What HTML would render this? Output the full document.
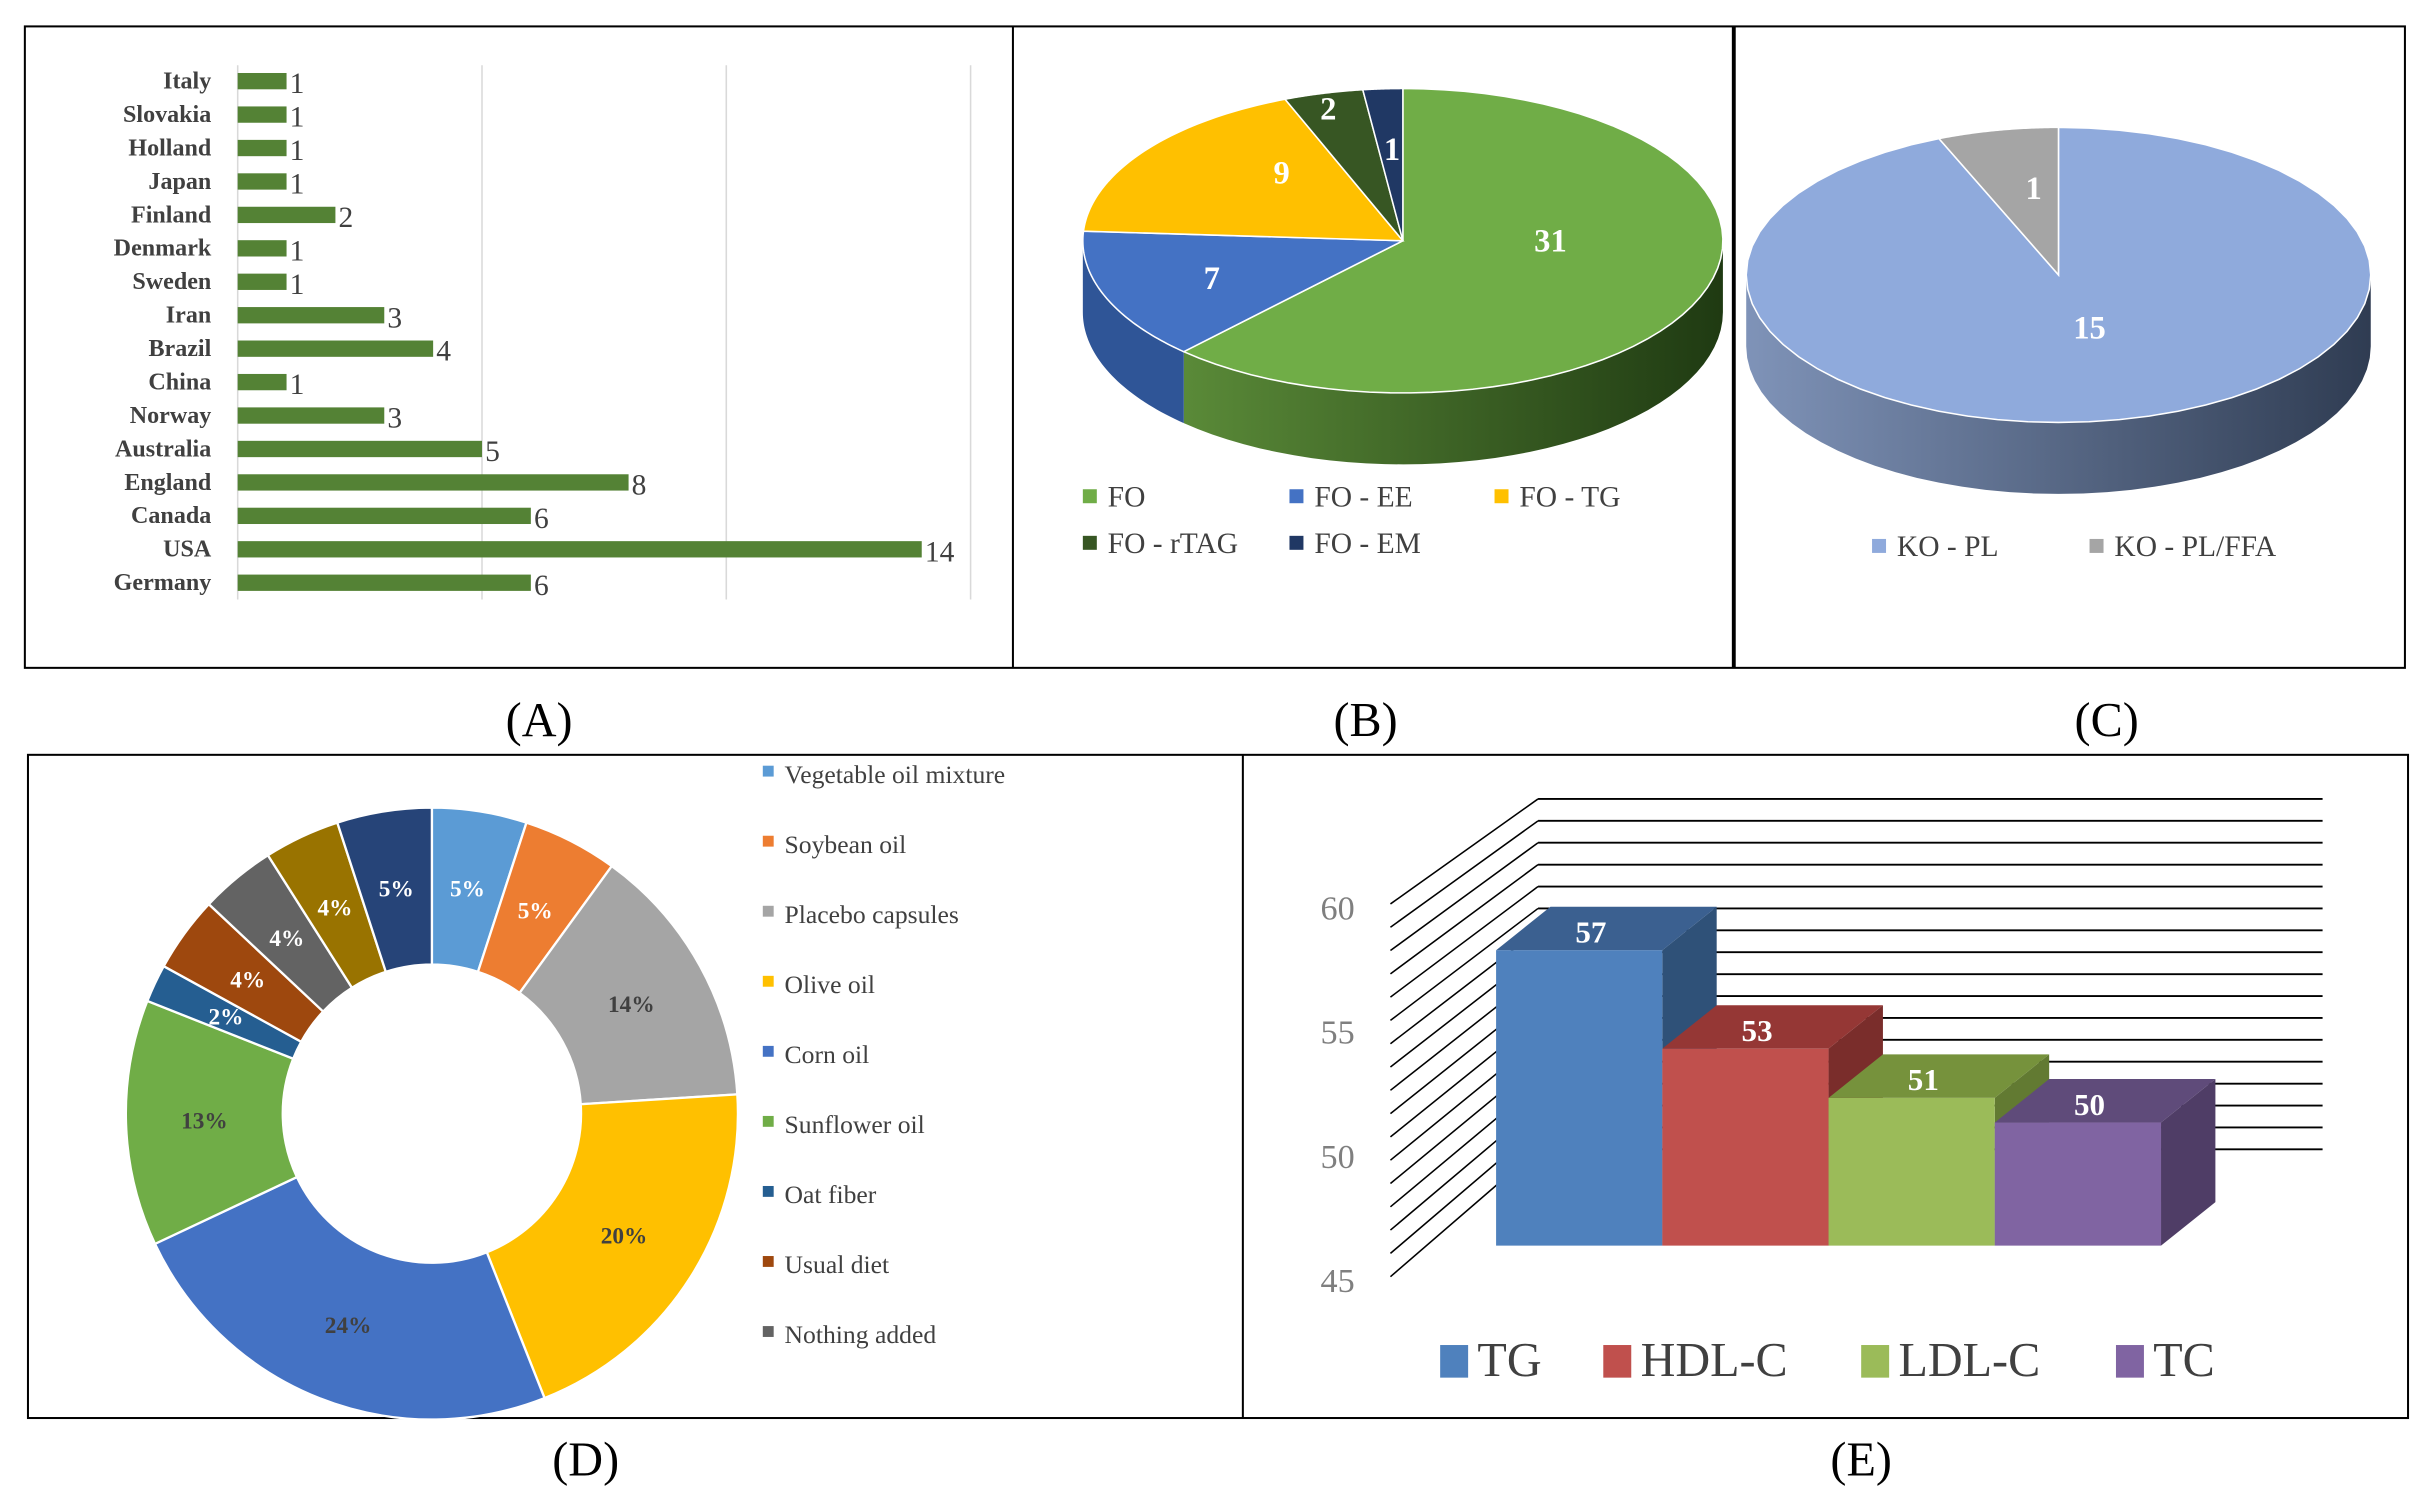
<!DOCTYPE html>
<html><head><meta charset="utf-8"><style>
html,body{margin:0;padding:0;background:#fff;}
svg{display:block;}
text{font-family:"Liberation Serif",serif;}
</style></head><body>
<svg id="fig" width="2436" height="1505" viewBox="0 0 1568 969" preserveAspectRatio="none" xmlns="http://www.w3.org/2000/svg">
<defs>
<linearGradient id="gB" x1="0" x2="1" y1="0" y2="0"><stop offset="0" stop-color="#5a8a38"/><stop offset="1" stop-color="#1f3a12"/></linearGradient>
<linearGradient id="gC" x1="0" x2="1" y1="0" y2="0"><stop offset="0" stop-color="#7f93b8"/><stop offset="1" stop-color="#2f3c52"/></linearGradient>
</defs>
<g fill="none" stroke="#000">
<rect x="16" y="17" width="1532" height="413" stroke-width="1.3"/>
<line x1="652" y1="17" x2="652" y2="430" stroke-width="1.3"/>
<line x1="1116" y1="17" x2="1116" y2="430" stroke-width="2.5"/>
<rect x="18" y="486" width="1532" height="427" stroke-width="1.3"/>
<line x1="800" y1="486" x2="800" y2="913" stroke-width="1.3"/>
</g>
<g font-size="31" fill="#000" text-anchor="middle">
<text x="347" y="474">(A)</text><text x="879" y="474">(B)</text><text x="1356" y="474">(C)</text>
<text x="377" y="950">(D)</text><text x="1198" y="950">(E)</text>
</g>
<g id="A"></g>
<g id="B"></g>
<g id="C"></g>
<g id="D"></g>
<g id="E"></g>
</svg>
<script>
const countries=["Italy","Slovakia","Holland","Japan","Finland","Denmark","Sweden","Iran","Brazil","China","Norway","Australia","England","Canada","USA","Germany"];
const countryCounts=[1,1,1,1,2,1,1,3,4,1,3,5,8,6,14,6];
const countryTicks=[0,5,10,15];
const foLabels=["FO","FO - EE","FO - TG","FO - rTAG","FO - EM"];
const foValues=[31,7,9,2,1];
const koLabels=["KO - PL","KO - PL/FFA"];
const koValues=[15,1];
const ctrlLabels=["Vegetable oil mixture","Soybean oil","Placebo capsules","Olive oil","Corn oil","Sunflower oil","Oat fiber","Usual diet","Nothing added","",""];
const ctrlValues=[5,5,14,20,24,13,2,4,4,4,5];
const lipidLabels=["TG","HDL-C","LDL-C","TC"];
const lipidValues=[57,53,51,50];
const lipidTicks=[45,50,55,60];

const NS="http://www.w3.org/2000/svg";
function mk(tag,attrs,parent,txt){const e=document.createElementNS(NS,tag);for(const k in attrs)e.setAttribute(k,attrs[k]);if(txt!==undefined)e.textContent=txt;parent.appendChild(e);return e;}

// ---- A ----
const A=document.getElementById('A');
const ax=v=>153+v*31.45;
const ay=i=>52+i*21.53;
countryTicks.forEach(t=>{const l=mk('line',{x1:ax(t),x2:ax(t),y1:42,y2:386,stroke:'#d9d9d9','stroke-width':1},A);

});
countries.forEach((c,i)=>{
const t=mk('text',{x:136,y:ay(i)+5,'text-anchor':'end','font-size':15.5,'font-weight':'bold',fill:'#404040'},A,c);


const r=mk('rect',{x:ax(0),y:ay(i)-5,width:ax(countryCounts[i])-ax(0),height:10.5,fill:'#548235'},A);


const v=mk('text',{x:ax(countryCounts[i])+2,y:ay(i)+8,'font-size':19,fill:'#404040'},A,countryCounts[i]);

});

// ---- 3D pie helper ----
function pie3d(g,vals,cols,sides,cx,cy,rx,ry,depth,labels,labelPos){
const tot=vals.reduce((a,b)=>a+b,0);
const P=(a,dy)=>[cx+rx*Math.sin(a),cy-ry*Math.cos(a)+dy];
let acc=0;const arcs=vals.map(v=>{const a0=acc/tot*2*Math.PI;acc+=v;const a1=acc/tot*2*Math.PI;return [a0,a1];});
arcs.forEach((ar,i)=>{
const lo=Math.PI/2,hi=3*Math.PI/2;
const s2=Math.max(ar[0],lo),e2=Math.min(ar[1],hi);
if(e2>s2){let d='';const n=40;
for(let k=0;k<=n;k++){const p=P(s2+(e2-s2)*k/n,0);d+=(k?'L':'M')+p[0]+' '+p[1];}
for(let k=n;k>=0;k--){const p=P(s2+(e2-s2)*k/n,depth);d+='L'+p[0]+' '+p[1];}
const sp=mk('path',{d:d+'Z',fill:sides[i]},g);

}});
arcs.forEach((ar,i)=>{let d='M'+cx+' '+cy;const n=60;
for(let k=0;k<=n;k++){const p=P(ar[0]+(ar[1]-ar[0])*k/n,0);d+='L'+p[0]+' '+p[1];}
const sl=mk('path',{d:d+'Z',fill:cols[i],stroke:'#fff','stroke-width':1},g);

});
arcs.forEach((ar,i)=>{
const lt=mk('text',{x:labelPos[i][0],y:labelPos[i][1],'text-anchor':'middle','font-size':21,'font-weight':'bold',fill:'#fff'},g,labels[i]);

});}

const B=document.getElementById('B');
const foCols=['#70ad47','#4472c4','#ffc000','#375623','#203864'];
pie3d(B,foValues,foCols,['url(#gB)','#2f5597','#bf9000','#264018','#15254a'],903,155,206,98,46,foValues,[[998,162],[780,186],[825,118],[855,77],[896,103]]);
foLabels.forEach((l,i)=>{const x=[697,830,962,697,830][i],y=[326,326,326,356,356][i];
const sq=mk('rect',{x:x,y:y-11,width:9,height:9,fill:foCols[i]},B);


const t=mk('text',{x:x+16,y:y,'font-size':19,fill:'#404040'},B,l);

});

const C=document.getElementById('C');
const koCols=['#8faadc','#a5a5a5'];
pie3d(C,koValues,koCols,['url(#gC)','#6f6f6f'],1325,177,201,95,46,koValues,[[1345,218],[1309,128]]);
koLabels.forEach((l,i)=>{const x=[1205,1345][i],y=358;
const sq=mk('rect',{x:x,y:y-11,width:9,height:9,fill:koCols[i]},C);


const t=mk('text',{x:x+16,y:y,'font-size':19,fill:'#404040'},C,l);

});

// ---- D donut ----
const D=document.getElementById('D');
const dCols=['#5b9bd5','#ed7d31','#a5a5a5','#ffc000','#4472c4','#70ad47','#255e91','#9e480e','#636363','#997300','#264478'];
const dTxt=['#fff','#fff','#404040','#404040','#404040','#404040','#fff','#fff','#fff','#fff','#fff'];
const dcx=278,dcy=717,R=197,r0=96;
const dtot=ctrlValues.reduce((a,b)=>a+b,0);
let dacc=0;
ctrlValues.forEach((v,i)=>{const a0=dacc/dtot*2*Math.PI;dacc+=v;const a1=dacc/dtot*2*Math.PI;
const pt=(a,rr)=>[dcx+rr*Math.sin(a),dcy-rr*Math.cos(a)];
const lg=(a1-a0)>Math.PI?1:0;
const p1=pt(a0,R),p2=pt(a1,R),p3=pt(a1,r0),p4=pt(a0,r0);
const d=`M${p1[0]} ${p1[1]}A${R} ${R} 0 ${lg} 1 ${p2[0]} ${p2[1]}L${p3[0]} ${p3[1]}A${r0} ${r0} 0 ${lg} 0 ${p4[0]} ${p4[1]}Z`;
const s=mk('path',{d:d,fill:dCols[i],stroke:'#fff','stroke-width':1.5},D);


const m=pt((a0+a1)/2,(R+r0)/2);
const t=mk('text',{x:m[0],y:m[1]+5,'text-anchor':'middle','font-size':15,'font-weight':'bold',fill:dTxt[i]},D,v+'%');

});
ctrlLabels.forEach((l,i)=>{if(!l)return;const y=499+i*45.1;
const sq=mk('rect',{x:491,y:y-6,width:7,height:7,fill:dCols[i]},D);


const t=mk('text',{x:505,y:y+5,'font-size':16.5,fill:'#404040'},D,l);

});

// ---- E 3D bars ----
const E=document.getElementById('E');
for(let i=0;i<17;i++){
const yb=740-14.1*i,yl=822-15*i;
const g1=mk('line',{x1:895,y1:yl,x2:990,y2:yb,stroke:'#000','stroke-width':1},E);


const g2=mk('line',{x1:990,y1:yb,x2:1495,y2:yb,stroke:'#000','stroke-width':1.2},E);

}
const tickY=v=>824-(v-45)*16;
lipidTicks.forEach(t=>{const e=mk('text',{x:872,y:tickY(t)+8,'text-anchor':'end','font-size':22,fill:'#7f7f7f'},E,t);

});
const eCols=['#4f81bd','#c0504d','#9bbb59','#8064a2'];
const eTop=['#3b6090','#953735','#76923c','#5f4b7a'];
const eSide=['#2f5178','#7a2d2b','#627a32','#4f3d66'];
const by=v=>802-(v-45)*15.85;
const bw=107,dx=35,dy=-28,bx0=963;
lipidValues.forEach((v,i)=>{const x=bx0+i*bw,yt=by(v);
const sd=mk('polygon',{points:`${x+bw},${yt} ${x+bw+dx},${yt+dy} ${x+bw+dx},${802+dy} ${x+bw},802`,fill:eSide[i]},E);


const tp=mk('polygon',{points:`${x},${yt} ${x+dx},${yt+dy} ${x+bw+dx},${yt+dy} ${x+bw},${yt}`,fill:eTop[i]},E);


const fr=mk('rect',{x:x,y:yt,width:bw,height:802-yt,fill:eCols[i]},E);


const lb=mk('text',{x:x+dx/2+bw/2-10,y:yt-5,'text-anchor':'middle','font-size':20,'font-weight':'bold',fill:'#fff','font-family':'Liberation Sans, sans-serif'},E,v);

});
lipidLabels.forEach((l,i)=>{const x=[927,1032,1198,1362][i];
const sq=mk('rect',{x:x,y:866,width:18,height:21,fill:eCols[i]},E);


const t=mk('text',{x:x+24,y:886,'font-size':31,fill:'#404040'},E,l);

});
</script>
</body></html>
